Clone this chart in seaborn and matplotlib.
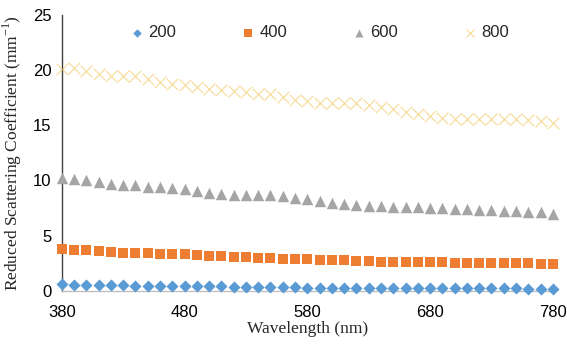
import numpy as np
import pandas as pd
import matplotlib
matplotlib.use('Agg')
import matplotlib.pyplot as plt
import seaborn as sns

sns.set_style('white')
plt.rcParams['font.family'] = ['Liberation Sans', 'DejaVu Sans']
plt.rcParams['mathtext.fontset'] = 'custom'
plt.rcParams['mathtext.rm'] = 'Liberation Serif'

# wavelengths 380..780 nm in 10 nm steps
wavelength = list(range(380, 790, 10))

mus_200 = [0.6, 0.55, 0.55, 0.55, 0.5, 0.5, 0.45, 0.45, 0.45, 0.4,
           0.4, 0.4, 0.4, 0.4, 0.35, 0.35, 0.35, 0.35, 0.35, 0.35,
           0.3, 0.3, 0.3, 0.3, 0.3, 0.3, 0.3, 0.3, 0.3, 0.3,
           0.25, 0.25, 0.25, 0.25, 0.25, 0.25, 0.25, 0.25, 0.2, 0.2, 0.2]
mus_400 = [3.8, 3.7, 3.7, 3.6, 3.5, 3.45, 3.4, 3.4, 3.35, 3.3,
           3.3, 3.25, 3.2, 3.15, 3.1, 3.05, 3.0, 2.95, 2.9, 2.9,
           2.85, 2.8, 2.8, 2.75, 2.7, 2.7, 2.65, 2.65, 2.6, 2.6,
           2.6, 2.6, 2.55, 2.55, 2.55, 2.5, 2.5, 2.5, 2.5, 2.45, 2.4]
mus_600 = [10.2, 10.15, 10.0, 9.85, 9.7, 9.6, 9.55, 9.45, 9.4, 9.35,
           9.2, 9.0, 8.85, 8.75, 8.65, 8.65, 8.65, 8.65, 8.6, 8.45,
           8.3, 8.15, 8.0, 7.85, 7.75, 7.7, 7.65, 7.6, 7.6, 7.55,
           7.5, 7.5, 7.45, 7.4, 7.35, 7.3, 7.25, 7.2, 7.15, 7.1, 7.0]
mus_800 = [20.1, 20.2, 19.95, 19.65, 19.5, 19.5, 19.45, 19.15, 18.9, 18.7,
           18.6, 18.45, 18.3, 18.2, 18.1, 18.0, 17.85, 17.8, 17.55, 17.3,
           17.15, 17.05, 17.05, 17.0, 17.0, 16.85, 16.65, 16.45, 16.2, 16.0,
           15.8, 15.65, 15.55, 15.55, 15.55, 15.55, 15.55, 15.55, 15.45, 15.35, 15.2]

series_names = ['200', '400', '600', '800']
series_vals = [mus_200, mus_400, mus_600, mus_800]
colors = ['#5B9BD5', '#ED7D31', '#A5A5A5', '#F2C14E']
markers = ['D', 's', '^', 'x']
sizes = [38, 62, 68, 70]

fig = plt.figure(figsize=(5.67, 3.45), dpi=100)
ax = fig.add_axes([0.109, 0.157, 0.866, 0.8])

for name, vals, c, m, s in zip(series_names, series_vals, colors, markers, sizes):
    df = pd.DataFrame({'Wavelength': wavelength, 'mus': vals})
    if m == 'x':
        sns.scatterplot(data=df, x='Wavelength', y='mus', ax=ax, color=c, marker=m,
                        s=s, linewidth=0.8, alpha=0.6, label=name, clip_on=False, zorder=3)
    else:
        sns.scatterplot(data=df, x='Wavelength', y='mus', ax=ax, color=c, marker=m,
                        s=s, linewidth=0, label=name, clip_on=False, zorder=3)

ax.set_xlim(380, 780)
ax.set_ylim(0, 25)
ax.set_xticks([380, 480, 580, 680, 780])
ax.set_yticks([0, 5, 10, 15, 20, 25])

sns.despine(ax=ax)
ax.spines['left'].set_color('#404040')
ax.spines['left'].set_linewidth(1.0)
ax.spines['bottom'].set_color('#BFBFBF')
ax.spines['bottom'].set_linewidth(1.0)
ax.tick_params(axis='both', which='both', direction='out', length=4, width=1,
               color='#595959', labelsize=12, labelcolor='#000000')
ax.tick_params(axis='x', pad=6)

serif = {'family': 'Liberation Serif', 'size': 12.5}
ax.set_xlabel('Wavelength (nm)', fontdict=serif, labelpad=1)
ax.set_ylabel('Reduced Scattering Coefficient (mm$^{-1}$)', fontdict=serif, labelpad=6)

leg = ax.legend(loc='center', bbox_to_anchor=(0.525, 0.935), ncol=4, frameon=False,
                fontsize=12, handlelength=0.8, handletextpad=0.3, columnspacing=3.9,
                markerscale=0.7)

fig.savefig('out.png', dpi=100)
